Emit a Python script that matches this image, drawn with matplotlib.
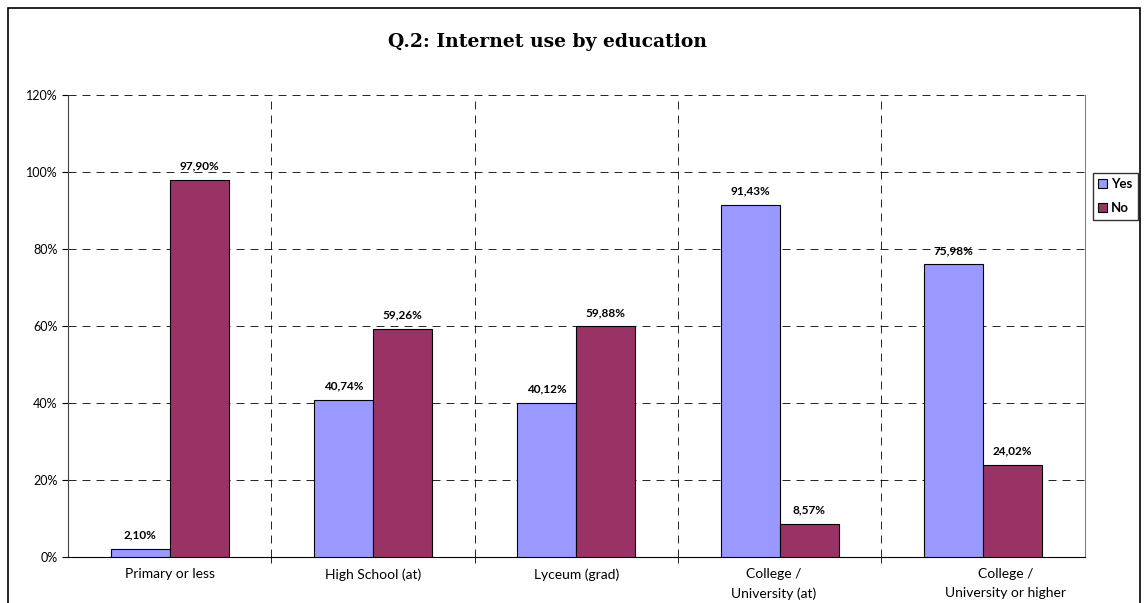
import numpy as np
import matplotlib
matplotlib.use("Agg")
from matplotlib import pyplot as plt
from matplotlib.patches import Rectangle
from matplotlib.ticker import FixedLocator, FuncFormatter
from matplotlib.transforms import ScaledTranslation

# data
categories = ["Primary or less", "High School (at)", "Lyceum (grad)",
              "College /\nUniversity (at)", "College /\nUniversity or higher"]
yes_values = [2.10, 40.74, 40.12, 91.43, 75.98]  # [%]
no_values = [97.90, 59.26, 59.88, 8.57, 24.02]   # [%]
y_ticks = [0, 20, 40, 60, 80, 100, 120]

plt.rcParams["font.family"] = ["Lato", "DejaVu Sans"]

fig = plt.figure(figsize=(11.44, 6.03), dpi=100)
ax = fig.add_axes([0.0594, 0.0763, 0.8886, 0.7662])

# outer chart frame
fig.patches.append(Rectangle((8 / 1144, -0.05), 1132 / 1144, 1 - 8 / 603 + 0.05,
                             transform=fig.transFigure, fill=False,
                             edgecolor="black", linewidth=1.2))

x = np.arange(len(categories))
w = 0.29
bars_yes = ax.bar(x - w / 2, yes_values, w, color="#9999FF", edgecolor="black",
                  linewidth=0.8, label="Yes", zorder=3)
bars_no = ax.bar(x + w / 2, no_values, w, color="#993366", edgecolor="black",
                 linewidth=0.8, label="No", zorder=3)

for bars, vals in ((bars_yes, yes_values), (bars_no, no_values)):
    for b, v in zip(bars, vals):
        ax.annotate(f"{v:.2f}%".replace(".", ","),
                    (b.get_x() + b.get_width() / 2, v),
                    xytext=(0, 6), textcoords="offset points",
                    ha="center", va="bottom", fontsize=8.5, fontweight="bold")

ax.set_xlim(-0.5, len(categories) - 0.5)
ax.set_ylim(0, 120)
ax.set_yticks(y_ticks)
ax.yaxis.set_major_formatter(FuncFormatter(lambda v, p: f"{v:.0f}%"))
ax.tick_params(axis="y", labelsize=9, length=4, direction="out")

ax.set_xticks(x)
labels = ax.set_xticklabels(categories, fontsize=10, linespacing=1.65)
ax.tick_params(axis="x", which="major", length=0, pad=8)
# the last label sits a bit right of its category in the original
labels[-1].set_transform(labels[-1].get_transform()
                         + ScaledTranslation(0.23, 0, fig.dpi_scale_trans))
labels[3].set_transform(labels[3].get_transform()
                        + ScaledTranslation(-0.06, 0, fig.dpi_scale_trans))
ax.xaxis.set_minor_locator(FixedLocator(np.arange(0.5, len(categories) - 0.5, 1)))
ax.tick_params(axis="x", which="minor", length=4, direction="out")

dash = (0, (9.6, 7.2))
ax.grid(axis="y", which="major", linestyle=dash, color="black",
        linewidth=0.6, zorder=0)
ax.grid(axis="x", which="minor", linestyle=dash, color="black",
        linewidth=0.6, zorder=0)
ax.set_axisbelow(True)

ax.spines["top"].set_visible(False)
ax.spines["right"].set_color("#808080")
ax.spines["left"].set_color("#404040")

fig.text(547 / 1144, 1 - 42 / 603, "Q.2: Internet use by education",
         ha="center", va="center", fontsize=13.5, fontweight="bold",
         family=["DejaVu Serif"])

leg = ax.legend(loc="upper left", bbox_to_anchor=(1.008, 0.832), fontsize=9.5,
                frameon=True, fancybox=False, edgecolor="black",
                handlelength=0.7, handleheight=0.7, handletextpad=0.3,
                borderpad=0.4, labelspacing=0.95, borderaxespad=0)
leg.get_frame().set_linewidth(1.0)
for t in leg.get_texts():
    t.set_fontweight("bold")

fig.savefig("out.png", dpi=100)
